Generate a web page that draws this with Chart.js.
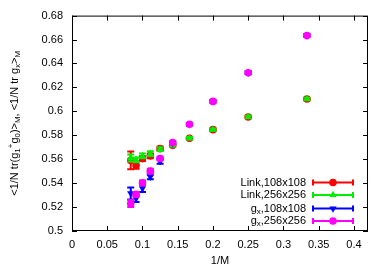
<!DOCTYPE html>
<html>
<head>
<meta charset="utf-8">
<script src="https://cdn.jsdelivr.net/npm/chart.js@4/dist/chart.umd.min.js"></script>
<style>
  html, body { margin: 0; padding: 0; background: #fff; }
  canvas { display: block; }
</style>
</head>
<body>
<canvas id="c" width="392" height="274"></canvas>
<script>
// data: x = 1/M for M = 3..12
const invM = [1/3, 1/4, 1/5, 1/6, 1/7, 1/8, 1/9, 1/10, 1/11, 1/12];

const link108    = [0.6103, 0.5953, 0.5847, 0.5775, 0.5717, 0.5688, 0.5628, 0.5605, 0.5550, 0.5590];
const link108Err = [0.0010, 0.0010, 0.0010, 0.0010, 0.0010, 0.0015, 0.0020, 0.0020, 0.0030, 0.0075];
const link256    = [0.6103, 0.5953, 0.5847, 0.5775, 0.5717, 0.5683, 0.5647, 0.5628, 0.5595, 0.5610];
const link256Err = [0.0010, 0.0010, 0.0010, 0.0010, 0.0010, 0.0015, 0.0020, 0.0020, 0.0020, 0.0030];
const gx108      = [0.6633, 0.6322, 0.6083, 0.5892, 0.5736, 0.5583, 0.5453, 0.5356, 0.5272, 0.5314];
const gx108Err   = [0.0010, 0.0010, 0.0010, 0.0010, 0.0010, 0.0020, 0.0020, 0.0030, 0.0030, 0.0050];
const gx256      = [0.6633, 0.6322, 0.6083, 0.5892, 0.5740, 0.5606, 0.5500, 0.5403, 0.5306, 0.5230];
const gx256Err   = [0.0010, 0.0010, 0.0010, 0.0010, 0.0010, 0.0015, 0.0020, 0.0020, 0.0020, 0.0030];

// tick values
const xTicks = [0, 0.05, 0.1, 0.15, 0.2, 0.25, 0.3, 0.35, 0.4];
const yTicks = [0.5, 0.52, 0.54, 0.56, 0.58, 0.6, 0.62, 0.64, 0.66, 0.68];

const FONT = "'Liberation Sans', Arial, sans-serif";

// legend labels as rich segments (sub = subscript)
const LEGEND = [
  [{ t: 'Link,108x108' }],
  [{ t: 'Link,256x256' }],
  [{ t: 'g' }, { t: 'x', s: 'sub' }, { t: ',108x108' }],
  [{ t: 'g' }, { t: 'x', s: 'sub' }, { t: ',256x256' }]
];

const Y_TITLE = [
  { t: '<1/N tr(g' }, { t: '1', s: 'sub' }, { t: '+', s: 'sup' }, { t: 'g' }, { t: '0', s: 'sub' },
  { t: ')>' }, { t: 'M', s: 'sub' }, { t: ', <1/N tr g' }, { t: 'x', s: 'sub' }, { t: '>' }, { t: 'M', s: 'sub' }
];

function pts(ys) { return ys.map((y, i) => ({ x: invM[i], y })); }

// ── rich text helper ─────────────────────────────
function richWidth(ctx, segs, size) {
  let w = 0;
  segs.forEach(sg => {
    ctx.font = (sg.s ? size * 0.72 : size) + 'px ' + FONT;
    w += ctx.measureText(sg.t).width;
  });
  return w;
}
function drawRich(ctx, segs, x, y, size, align) {
  const w = richWidth(ctx, segs, size);
  let cx = align === 'right' ? x - w : align === 'center' ? x - w / 2 : x;
  ctx.textBaseline = 'middle';
  ctx.textAlign = 'left';
  segs.forEach(sg => {
    ctx.font = (sg.s ? size * 0.72 : size) + 'px ' + FONT;
    const dy = sg.s === 'sub' ? size * 0.3 : sg.s === 'sup' ? -size * 0.4 : 0;
    ctx.fillText(sg.t, cx, y + dy);
    cx += ctx.measureText(sg.t).width;
  });
}

// ── error bars, drawn just under each dataset's markers ──
const errorBars = {
  id: 'errorBars',
  beforeDatasetDraw(chart, args) {
    const ds = chart.data.datasets[args.index];
    const { ctx, scales: { x, y } } = chart;
    ctx.save();
    ctx.strokeStyle = ds.borderColor;
    ctx.lineWidth = 2;
    ds.data.forEach((p, i) => {
      const e = ds.errs[i];
      const px = x.getPixelForValue(p.x);
      const y1 = y.getPixelForValue(p.y - e);
      const y2 = y.getPixelForValue(p.y + e);
      ctx.beginPath();
      ctx.moveTo(px, y1); ctx.lineTo(px, y2);
      ctx.moveTo(px - 3.5, y1); ctx.lineTo(px + 3.5, y1);
      ctx.moveTo(px - 3.5, y2); ctx.lineTo(px + 3.5, y2);
      ctx.stroke();
    });
    ctx.restore();
  }
};

// ── frame, inward ticks, axis titles, legend ──────
const frame = {
  id: 'frame',
  afterDraw(chart) {
    const { ctx, chartArea: a, scales: { x, y } } = chart;
    ctx.save();
    ctx.strokeStyle = '#000';
    ctx.lineWidth = 1;
    ctx.strokeRect(a.left + 0.5, a.top + 0.5, a.right - a.left - 1, a.bottom - a.top - 1);
    ctx.beginPath();
    x.ticks.forEach(t => {
      const px = Math.round(x.getPixelForValue(t.value)) + 0.5;
      ctx.moveTo(px, a.bottom); ctx.lineTo(px, a.bottom - 5);
      ctx.moveTo(px, a.top); ctx.lineTo(px, a.top + 5);
    });
    y.ticks.forEach(t => {
      const py = Math.round(y.getPixelForValue(t.value)) + 0.5;
      ctx.moveTo(a.left, py); ctx.lineTo(a.left + 5, py);
      ctx.moveTo(a.right, py); ctx.lineTo(a.right - 5, py);
    });
    ctx.stroke();

    ctx.fillStyle = '#000';
    // x title
    drawRich(ctx, [{ t: '1/M' }], (a.left + a.right) / 2, 261, 11, 'center');
    // y title, rotated
    ctx.save();
    ctx.translate(15, (a.top + a.bottom) / 2);
    ctx.rotate(-Math.PI / 2);
    drawRich(ctx, Y_TITLE, 0, 0, 11, 'center');
    ctx.restore();

    // legend, bottom right inside the frame
    const rowsY = [a.bottom - 48.5, a.bottom - 36, a.bottom - 22.5, a.bottom - 10];
    chart.data.datasets.forEach((ds, i) => {
      const ry = rowsY[i];
      ctx.fillStyle = '#000';
      drawRich(ctx, LEGEND[i], a.right - 62, ry, 11, 'right');
      const l1 = a.right - 55, l2 = a.right - 15;
      ctx.strokeStyle = ds.borderColor;
      ctx.lineWidth = 2;
      ctx.beginPath();
      ctx.moveTo(l1, ry); ctx.lineTo(l2, ry);
      ctx.moveTo(l1, ry - 3); ctx.lineTo(l1, ry + 3);
      ctx.moveTo(l2, ry - 3); ctx.lineTo(l2, ry + 3);
      ctx.stroke();
      ctx.fillStyle = ds.backgroundColor;
      Chart.helpers.drawPoint(ctx, {
        pointStyle: ds.pointStyle, rotation: ds.rotation || 0,
        radius: ds.pointRadius, borderWidth: 0
      }, (l1 + l2) / 2, ry);
    });
    ctx.restore();
  }
};

function series(label, data, errs, color, style, radius, order, rotation) {
  return {
    label, data: pts(data), errs,
    borderColor: color, backgroundColor: color,
    showLine: false, pointStyle: style, pointRadius: radius,
    pointBorderWidth: 0, rotation: rotation || 0, order
  };
}

new Chart(document.getElementById('c'), {
  type: 'scatter',
  data: {
    datasets: [
      series('Link,108x108', link108, link108Err, '#ff0000', 'circle',   3.8, 4),
      series('Link,256x256', link256, link256Err, '#00ee00', 'triangle', 4.2, 3),
      series('gx,108x108',   gx108,   gx108Err,   '#0000ff', 'triangle', 4.2, 2, 180),
      series('gx,256x256',   gx256,   gx256Err,   '#ff00ff', 'circle',   3.8, 1)
    ]
  },
  options: {
    responsive: false,
    devicePixelRatio: 1,
    animation: false,
    layout: { padding: { left: 0, top: 15, right: 24, bottom: 0 } },
    plugins: { legend: { display: false }, tooltip: { enabled: false } },
    scales: {
      x: {
        type: 'linear', min: 0, max: 0.42,
        grid: { display: false, drawTicks: false },
        border: { display: false },
        afterFit: s => { s.height = 43; },
        afterBuildTicks: s => { s.ticks = xTicks.map(v => ({ value: v })); },
        ticks: {
          padding: 7, color: '#000', maxRotation: 0, autoSkip: false,
          font: { family: FONT, size: 11 },
          callback: v => String(Number(v.toFixed(2)))
        }
      },
      y: {
        type: 'linear', min: 0.5, max: 0.68,
        grid: { display: false, drawTicks: false },
        border: { display: false },
        afterFit: s => { s.width = 72; },
        afterBuildTicks: s => { s.ticks = yTicks.map(v => ({ value: v })); },
        ticks: {
          padding: 9, color: '#000', autoSkip: false,
          font: { family: FONT, size: 11 },
          callback: v => String(Number(v.toFixed(2)))
        }
      }
    }
  },
  plugins: [errorBars, frame]
});
</script>
</body>
</html>
